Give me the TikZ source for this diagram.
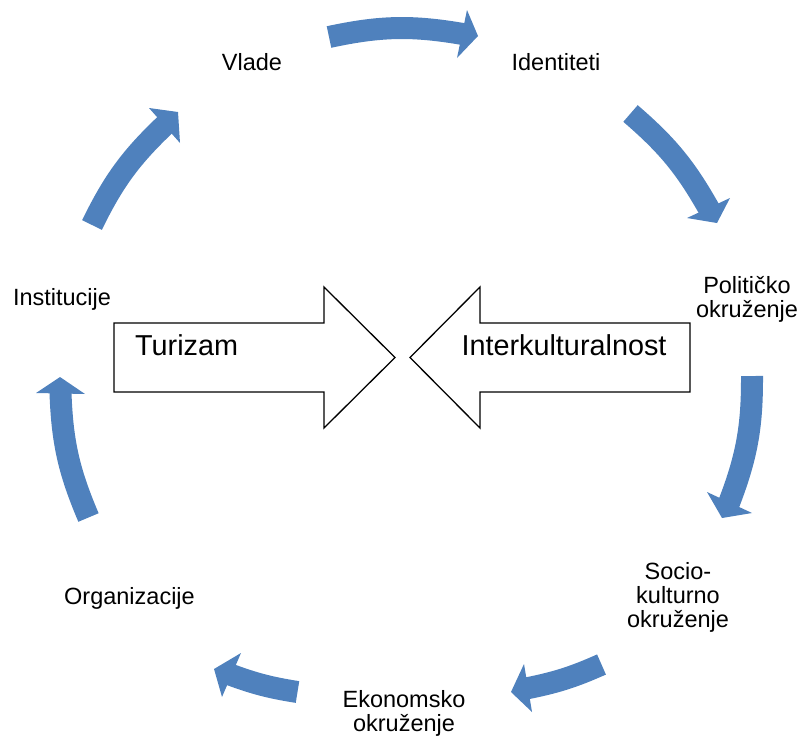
\documentclass[tikz,border=0pt]{standalone}
\usepackage{fontspec}
\setmainfont{Liberation Sans}
\usetikzlibrary{calc}
\definecolor{cycblue}{HTML}{4F81BD}
\newcommand{\cycarr}[5]{%
  \draw[shaft] (#1) to[bend left=#5] ($(#2)!0.5!(#3)!3pt!(#4)$);
  \fill[cycblue] (#2) -- (#4) -- (#3) -- cycle;}
\begin{document}
\begin{tikzpicture}[x=1pt,y=1pt,
  shaft/.style={draw=cycblue,line width=22pt,line cap=butt},
  lbl/.style={font=\fontsize{23.5}{24}\selectfont,align=center,inner sep=0pt},
  bigtxt/.style={font=\fontsize{28.8}{30}\selectfont,inner sep=0pt},
  block/.style={draw=black,fill=white,line width=1.3pt,line join=miter}]
\useasboundingbox (0,0) rectangle (801,-736);

% cycle labels
\node[lbl] (vlade) at (252,-62) {Vlade};
\node[lbl] (ident) at (556,-62) {Identiteti};
\node[lbl] (polit) at (747,-299) {Političko\\okruženje};
\node[lbl] (socio) at (678,-597) {Socio-\\kulturno\\okruženje};
\node[lbl] (ekon) at (404,-713) {Ekonomsko\\okruženje};
\node[lbl] (org) at (129.5,-598) {Organizacije};
\node[lbl] (inst) at (62,-299) {Institucije};

% cycle arrows
\coordinate (t1) at (329,-37);    \coordinate (a1) at (467,-10);  \coordinate (b1) at (457,-58);  \coordinate (p1) at (478,-36);
\coordinate (t2) at (630.5,-113.5); \coordinate (a2) at (687,-218); \coordinate (b2) at (730,-198); \coordinate (p2) at (717,-223);
\coordinate (t3) at (752,-376);   \coordinate (a3) at (707,-492); \coordinate (b3) at (752,-513); \coordinate (p3) at (722,-518);
\coordinate (t4) at (601.5,-664.5); \coordinate (a4) at (524,-664); \coordinate (b4) at (532,-712); \coordinate (p4) at (511,-692);
\coordinate (t5) at (297.5,-692); \coordinate (a5) at (241,-653); \coordinate (b5) at (222,-697); \coordinate (p5) at (214,-669);
\coordinate (t6) at (88.5,-517.5); \coordinate (a6) at (36,-393);  \coordinate (b6) at (85,-394);  \coordinate (p6) at (60,-377);
\coordinate (t7) at (92,-225);    \coordinate (a7) at (149,-108); \coordinate (b7) at (180,-143); \coordinate (p7) at (178,-112);
\cycarr{t1}{a1}{b1}{p1}{11}
\cycarr{t2}{a2}{b2}{p2}{10}
\cycarr{t3}{a3}{b3}{p3}{10.7}
\cycarr{t4}{a4}{b4}{p4}{6.4}
\cycarr{t5}{a5}{b5}{p5}{5.7}
\cycarr{t6}{a6}{b6}{p6}{10.6}
\cycarr{t7}{a7}{b7}{p7}{10.3}

% central block arrows
\draw[block] (114,-323) -- (324,-323) -- (324,-287) -- (395,-357.5) -- (324,-428) -- (324,-392) -- (114,-392) -- cycle;
\draw[block] (690,-323) -- (480,-323) -- (480,-287) -- (410,-357.5) -- (480,-428) -- (480,-392) -- (690,-392) -- cycle;
\node[bigtxt,anchor=base west] (tur) at (135,-355) {Turizam};
\node[bigtxt,anchor=base] (inter) at (564,-355) {Interkulturalnost};
\end{tikzpicture}
\end{document}
